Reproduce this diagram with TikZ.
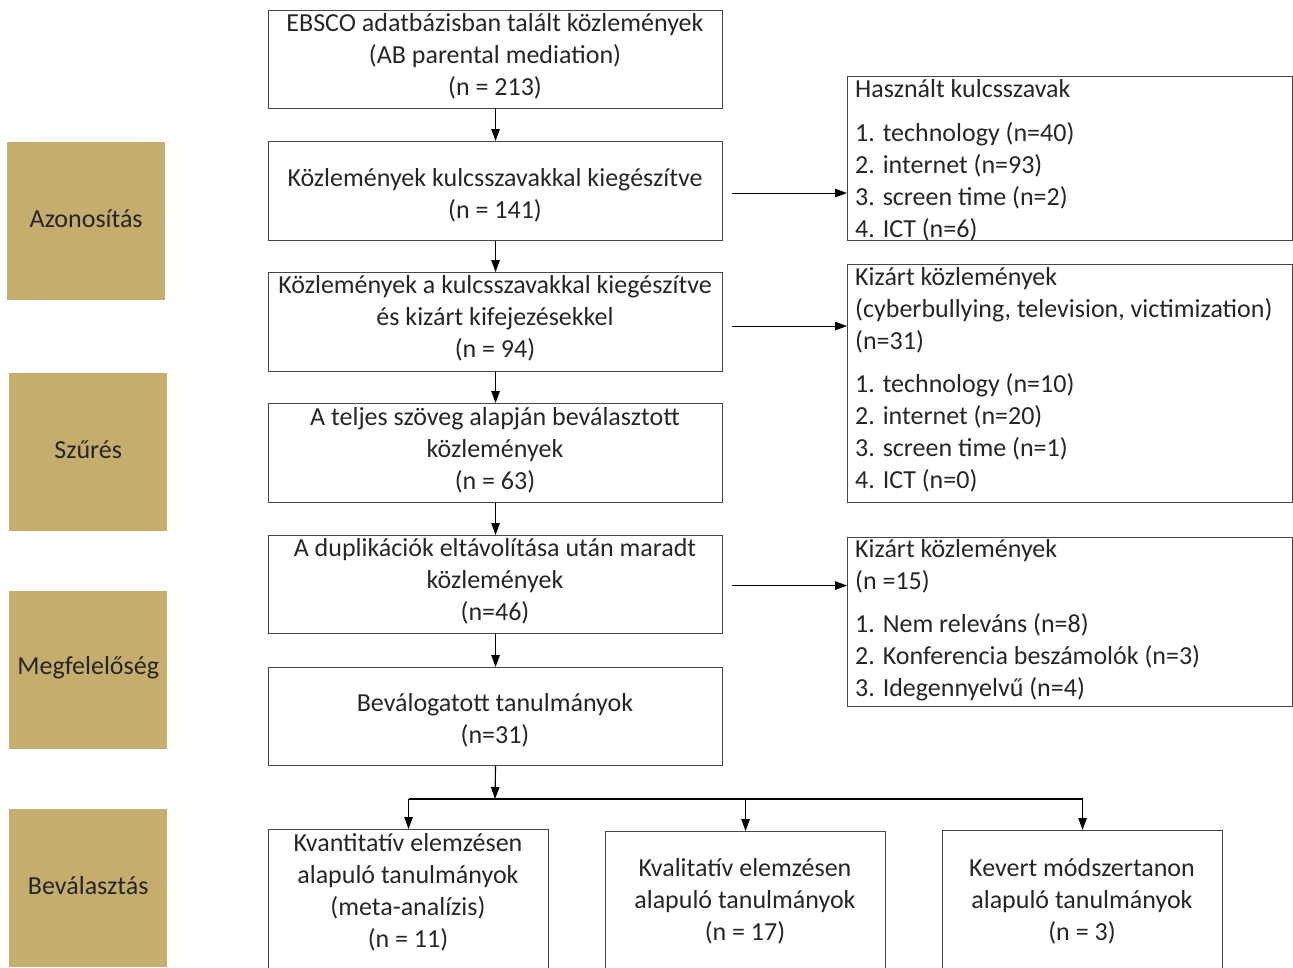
\documentclass[tikz,border=0pt]{standalone}
\usepackage{fontspec}
\setmainfont{Carlito}
\usetikzlibrary{arrows.meta}
\definecolor{gold}{RGB}{197,173,110}
\definecolor{txt}{RGB}{38,38,38}
\definecolor{frame}{RGB}{70,70,70}
\newcommand{\lift}[1]{\raisebox{2.5pt}[\height][\depth]{#1}}
\begin{document}
\begin{tikzpicture}[x=1pt,y=-1pt,
  every node/.style={font=\fontsize{26}{32}\selectfont, text=txt},
  phase/.style={fill=gold, minimum width=158pt, minimum height=158pt, inner sep=0pt, anchor=north west},
  box/.style={draw=frame, line width=1.1pt, inner sep=0pt, anchor=north west},
  ctext/.style={align=center, inner sep=0pt},
  ltext/.style={align=left, inner sep=0pt, anchor=west},
  arr/.style={-{Triangle[length=12pt,width=8.5pt]}, line width=1.1pt, draw=black}
]
\useasboundingbox (0,0) rectangle (1293,967);
\clip (0,0) rectangle (1293,967);

% phase boxes
\node[phase] (p1) at (7,142) {\lift{Azonosítás}};
\node[phase] (p2) at (9,373) {\lift{Szűrés}};
\node[phase] (p3) at (9,591) {\lift{Megfelelőség}};
\node[phase] (p4) at (9,809) {\lift{Beválasztás}};

% main column
\node[box, minimum width=454pt, minimum height=98pt] (b1) at (268,10) {};
\node[box, minimum width=454pt, minimum height=99pt] (b2) at (268,141) {};
\node[box, minimum width=454pt, minimum height=99pt] (b3) at (268,272) {};
\node[box, minimum width=454pt, minimum height=99pt] (b4) at (268,403) {};
\node[box, minimum width=454pt, minimum height=98pt] (b5) at (268,535) {};
\node[box, minimum width=454pt, minimum height=98pt] (b6) at (268,667) {};

\node[ctext] (b1t) at (495,56) {EBSCO adatbázisban talált közlemények\\(AB parental mediation)\\(n = 213)};
\node[ctext] (b2t) at (495,195) {Közlemények kulcsszavakkal kiegészítve\\(n = 141)};
\node[ctext] (b3t) at (495,318) {Közlemények a kulcsszavakkal kiegészítve\\és kizárt kifejezésekkel\\(n = 94)};
\node[ctext] (b4t) at (495,450) {A teljes szöveg alapján beválasztott\\közlemények\\(n = 63)};
\node[ctext] (b5t) at (495,581) {A duplikációk eltávolítása után maradt\\közlemények\\(n=46)};
\node[ctext] (b6t) at (495,720) {Beválogatott tanulmányok\\(n=31)};

% right column
\node[box, minimum width=445pt, minimum height=164pt] (r1) at (847,76) {};
\node[box, minimum width=445pt, minimum height=238pt] (r2) at (847,264) {};
\node[box, minimum width=445pt, minimum height=169pt] (r3) at (847,537) {};

\node[ltext] (r1t) at (855,160) {Használt kulcsszavak\\[12pt]1. technology (n=40)\\2. internet (n=93)\\3. screen time (n=2)\\4. ICT (n=6)};
\node[ltext] (r2t) at (855,380) {Kizárt közlemények\\(cyberbullying, television, victimization)\\(n=31)\\[11pt]1. technology (n=10)\\2. internet (n=20)\\3. screen time (n=1)\\4. ICT (n=0)};
\node[ltext] (r3t) at (855,620) {Kizárt közlemények\\(n =15)\\[11pt]1. Nem releváns (n=8)\\2. Konferencia beszámolók (n=3)\\3. Idegennyelvű (n=4)};

% bottom boxes
\node[box, minimum width=280pt, minimum height=170pt] (k1) at (268,829) {};
\node[box, minimum width=280pt, minimum height=170pt] (k2) at (605,831) {};
\node[box, minimum width=280pt, minimum height=170pt] (k3) at (942,830) {};

\node[ctext] (k1t) at (408,892) {Kvantitatív elemzésen\\alapuló tanulmányok\\(meta-analízis)\\(n = 11)};
\node[ctext] (k2t) at (745,901) {Kvalitatív elemzésen\\alapuló tanulmányok\\(n = 17)};
\node[ctext] (k3t) at (1082,901) {Kevert módszertanon\\alapuló tanulmányok\\(n = 3)};

% vertical arrows
\draw[arr] (b1.south) -- (b2.north);
\draw[arr] (b2.south) -- (b3.north);
\draw[arr] (b3.south) -- (b4.north);
\draw[arr] (b4.south) -- (b5.north);
\draw[arr] (b5.south) -- (b6.north);

% horizontal arrows
\draw[arr] ([xshift=9pt,yshift=-2pt]b2.east) -- ([yshift=-2pt]b2.east -| r1.west);
\draw[arr] ([xshift=9pt,yshift=-4pt]b3.east) -- ([yshift=-4pt]b3.east -| r2.west);
\draw[arr] ([xshift=9pt,yshift=-1pt]b5.east) -- ([yshift=-1pt]b5.east -| r3.west);

% split
\coordinate (split) at (495,799);
\draw[arr] (b6.south) -- (split);
\draw[line width=1.1pt] (k1.north |- split) -- (k3.north |- split);
\draw[arr] (k1.north |- split) -- (k1.north);
\draw[arr] (k2.north |- split) -- (k2.north);
\draw[arr] (k3.north |- split) -- (k3.north);
\end{tikzpicture}
\end{document}
